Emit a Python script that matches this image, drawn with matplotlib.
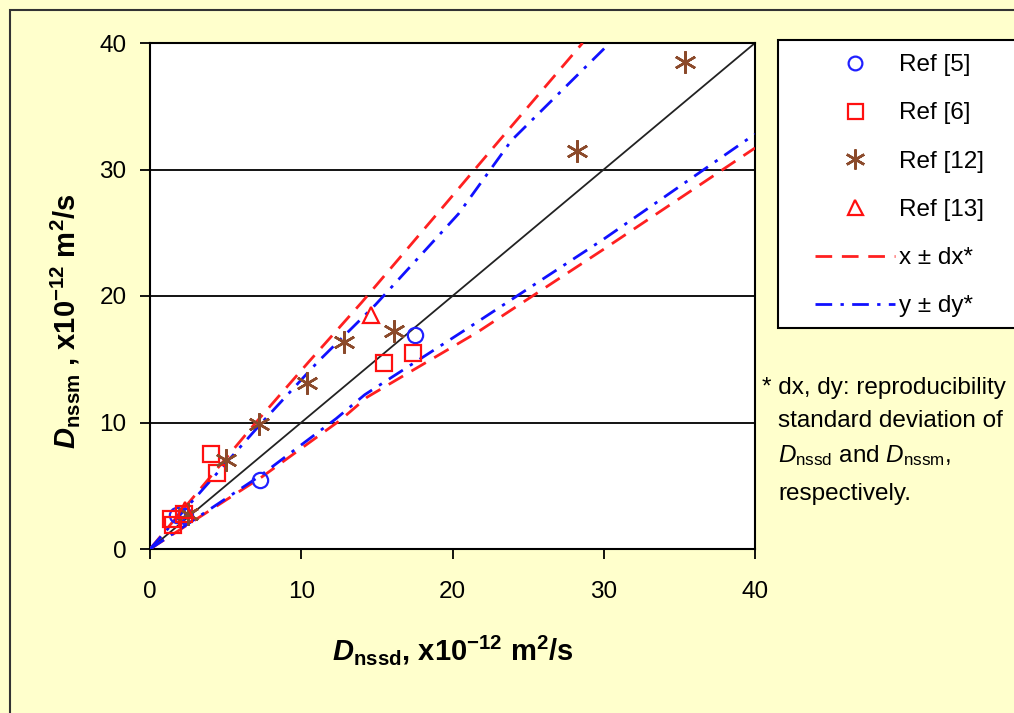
import numpy as np
import matplotlib
matplotlib.use('Agg')
import matplotlib.pyplot as plt
from matplotlib.patches import Rectangle

plt.rcParams['font.family'] = ['Liberation Sans', 'DejaVu Sans']
plt.rcParams['mathtext.fontset'] = 'custom'
plt.rcParams['mathtext.rm'] = 'Liberation Sans'
plt.rcParams['mathtext.it'] = 'Liberation Sans:italic'
plt.rcParams['mathtext.bf'] = 'Liberation Sans:bold'
plt.rcParams['mathtext.bfit'] = 'Liberation Sans:italic:bold'

# measured points (x = D_nssd, y = D_nssm)
ref5_x = [1.8, 2.3, 7.3, 17.5]
ref5_y = [2.7, 2.6, 5.45, 16.9]
ref6_x = [1.4, 1.5, 2.25, 4.0, 4.45, 15.5, 17.4]
ref6_y = [2.4, 1.9, 2.8, 7.5, 6.0, 14.7, 15.5]
ref12_x = [2.5, 5.0, 7.2, 10.4, 12.8, 16.1, 28.2, 35.4]
ref12_y = [2.8, 7.0, 9.9, 13.1, 16.4, 17.2, 31.5, 38.5]
ref13_x = [2.3, 14.6]
ref13_y = [3.1, 18.5]

# reproducibility limits
xdx_up_x = [0, 3.5, 7.0, 10.5, 14.0, 19.2, 23.1, 28.6]
xdx_up_y = [0, 5, 10, 14.8, 19.5, 26.8, 32.3, 40]
xdx_lo_x = [0, 7.4, 12.6, 14.35, 21.6, 30, 40]
xdx_lo_y = [0, 5.7, 10.2, 12.0, 17.1, 23.7, 31.7]
ydy_up_x = [0, 3.7, 7.4, 11.1, 14.9, 20.4, 23.9, 30.4]
ydy_up_y = [0, 5, 10, 14.8, 19.3, 26.5, 32.3, 40]
ydy_lo_x = [0, 7.3, 12.3, 14.2, 21.2, 30, 40]
ydy_lo_y = [0, 5.8, 10.3, 12.2, 17.6, 24.5, 32.8]

ticks = [0, 10, 20, 30, 40]

fig = plt.figure(figsize=(10.14, 7.13), dpi=100)
fig.patch.set_facecolor('#FFFFCC')
ax = fig.add_axes([150/1014, 1-549/713, 605/1014, 506/713])

# figure border (top/left only visible)
fig.patches.append(Rectangle((10/1014, -0.5), 2, 0.5 + 1 - 10/713, transform=fig.transFigure,
                             facecolor='none', edgecolor='#333333', lw=1.5, zorder=0))

for g in [10, 20, 30]:
    ax.axhline(g, color='black', lw=1.3, zorder=1)

ax.plot([0, 40], [0, 40], color='#222222', lw=1.3, zorder=2)
ax.plot(xdx_up_x, xdx_up_y, color='#FF2020', lw=2, dashes=(6, 3.5), zorder=3, label='x ± dx*')
ax.plot(xdx_lo_x, xdx_lo_y, color='#FF2020', lw=2, dashes=(6, 3.5), zorder=3)
ax.plot(ydy_up_x, ydy_up_y, color='#1010FF', lw=2, dashes=(6, 3, 1.2, 3), zorder=3, label='y ± dy*')
ax.plot(ydy_lo_x, ydy_lo_y, color='#1010FF', lw=2, dashes=(6, 3, 1.2, 3), zorder=3)

h5, = ax.plot(ref5_x, ref5_y, 'o', ms=11, mfc='none', mec='#2020FF', mew=1.6, zorder=4, label='Ref [5]')
h6, = ax.plot(ref6_x, ref6_y, 's', ms=12, mfc='none', mec='#FF1010', mew=1.6, zorder=4, label='Ref [6]')
h12, = ax.plot(ref12_x, ref12_y, marker=(6, 2, 0), ls='none', ms=16, mec='#8B4A2B', mew=1.8, zorder=4, label='Ref [12]')
h13, = ax.plot(ref13_x, ref13_y, '^', ms=12, mfc='none', mec='#FF1010', mew=1.6, zorder=4, label='Ref [13]')

ax.set_xlim(0, 40)
ax.set_ylim(0, 40)
ax.set_xticks(ticks)
ax.set_yticks(ticks)
ax.tick_params(direction='out', length=7, width=1.3, labelsize=17.5, colors='black')
ax.tick_params(axis='x', pad=16)
ax.tick_params(axis='y', pad=10)
for s in ax.spines.values():
    s.set_linewidth(1.5)

ax.set_xlabel(r"$\mathbfit{D}_{\mathbf{nssd}}$, x10$^{\mathbf{-12}}$ m$^{\mathbf{2}}$/s",
              fontsize=21, fontweight='bold', labelpad=22)
ax.set_ylabel(r"$\mathbfit{D}_{\mathbf{nssm}}$ , x10$^{\mathbf{-12}}$ m$^{\mathbf{2}}$/s",
              fontsize=21, fontweight='bold')
ax.yaxis.set_label_coords(-0.113, 0.45)

# legend with its own frame
fig.patches.append(Rectangle((778/1014, 1-328/713), 0.5, 288/713, transform=fig.transFigure,
                             facecolor='white', edgecolor='black', lw=1.5, zorder=1))
handles, labels = ax.get_legend_handles_labels()
order = ['Ref [5]', 'Ref [6]', 'Ref [12]', 'Ref [13]', 'x ± dx*', 'y ± dy*']
hmap = dict(zip(labels, handles))
fig.legend([hmap[k] for k in order], order, loc='upper left',
           bbox_to_anchor=(815/1014, 1-54/713), frameon=False, fontsize=17.5,
           handlelength=3.3, handletextpad=0.15, labelspacing=1.08, borderpad=0,
           borderaxespad=0, markerscale=0.9)

fig.text(762/1014, 1-388/713, "* dx, dy: reproducibility", fontsize=17.5, va='center')
fig.text(778/1014, 1-421/713, "standard deviation of", fontsize=17.5, va='center')
fig.text(778/1014, 1-456/713, r"$\mathit{D}_{\mathrm{nssd}}$ and $\mathit{D}_{\mathrm{nssm}}$,", fontsize=17.5, va='center')
fig.text(778/1014, 1-494/713, "respectively.", fontsize=17.5, va='center')

fig.savefig('out.png', dpi=100, facecolor=fig.get_facecolor())
